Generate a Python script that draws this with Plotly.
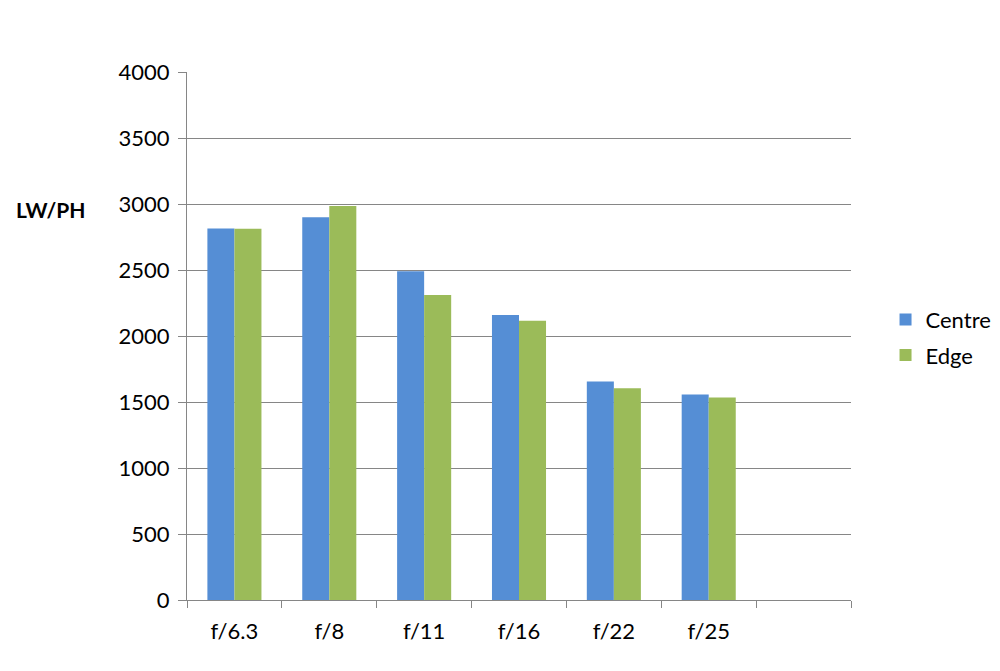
import plotly.graph_objects as go

categories = ["f/6.3", "f/8", "f/11", "f/16", "f/22", "f/25"]
centre = [2815, 2900, 2490, 2160, 1655, 1557]
edge = [2812, 2985, 2310, 2115, 1605, 1535]
y_ticks = [0, 500, 1000, 1500, 2000, 2500, 3000, 3500, 4000]

x_pos = list(range(len(categories)))
n_slots = len(categories) + 1

fig = go.Figure()
fig.add_trace(go.Bar(x=x_pos, y=centre, name="Centre", legendgroup="c",
                     marker=dict(color="#558ED5", line=dict(width=0))))
fig.add_trace(go.Bar(x=x_pos, y=edge, name="Edge", legendgroup="e",
                     marker=dict(color="#9BBB59", line=dict(width=0))))

font = "Lato, 'Open Sans', sans-serif"
fig.update_layout(
    width=1000, height=671,
    margin=dict(l=179, r=157, t=64, b=79, autoexpand=False),
    paper_bgcolor="white", plot_bgcolor="white",
    barmode="group", bargap=0.43, bargroupgap=0,
    font=dict(family=font, size=22, color="#000000"),
    legend=dict(x=1.052, y=0.497, xanchor="left", yanchor="middle",
                font=dict(size=22), itemsizing="constant", tracegroupgap=4),
    showlegend=True,
)
fig.update_xaxes(
    range=[-0.5, n_slots - 0.5],
    tickvals=x_pos, ticktext=categories, ticks="",
    showline=True, linecolor="#868686", linewidth=1,
    showgrid=False, zeroline=False,
    ticklabelstandoff=12,
    minor=dict(tickvals=[i - 0.5 for i in range(n_slots + 1)], ticks="outside",
               ticklen=7, tickcolor="#868686", showgrid=False),
)
fig.update_yaxes(
    range=[0, 4000], tickvals=y_ticks,
    ticks="outside", ticklen=8, tickcolor="#868686",
    showline=True, linecolor="#868686", linewidth=1,
    showgrid=True, gridcolor="#868686", gridwidth=1, zeroline=False,
    ticklabelstandoff=4,
)
fig.add_annotation(text="<b>LW/PH</b>", xref="paper", yref="paper",
                   x=-0.149, y=(592 - 201) / 528, xanchor="right", yanchor="middle",
                   showarrow=False, font=dict(size=21, family=font))
fig.write_html("out.html")
